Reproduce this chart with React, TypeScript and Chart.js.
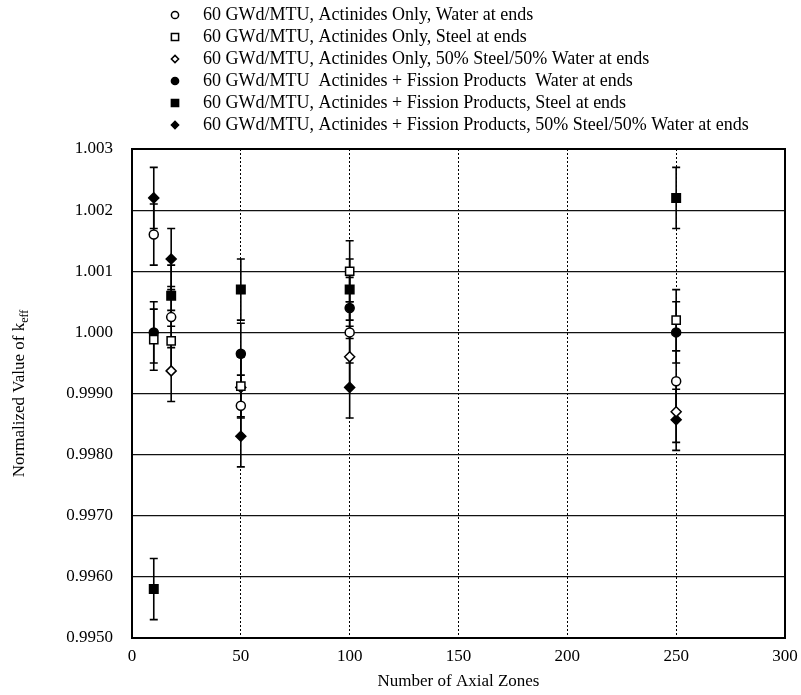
import React, { useEffect, useRef } from "react";
import { Chart, registerables } from "chart.js";

Chart.register(...registerables);

// ---- data ----
const X_ZONES = [10, 18, 50, 100, 250];
const ACT_WATER = [1.0016, 1.00025, 0.9988, 1.0, 0.9992];
const ACT_STEEL = [0.99988, 0.99986, 0.99912, 1.001, 1.0002];
const ACT_MIX = [null, 0.99937, 0.9991, 0.9996, 0.9987];
const FP_WATER = [1.0, null, 0.99965, 1.0004, 1.0];
const FP_STEEL = [0.9958, 1.0006, 1.0007, 1.0007, 1.0022];
const FP_MIX = [1.0022, 1.0012, 0.9983, 0.9991, 0.99857];
const ERR_HALF = 0.0005;

const SERIES_LABELS = [
  "60 GWd/MTU, Actinides Only, Water at ends",
  "60 GWd/MTU, Actinides Only, Steel at ends",
  "60 GWd/MTU, Actinides Only, 50% Steel/50% Water at ends",
  "60 GWd/MTU  Actinides + Fission Products  Water at ends",
  "60 GWd/MTU, Actinides + Fission Products, Steel at ends",
  "60 GWd/MTU, Actinides + Fission Products, 50% Steel/50% Water at ends",
];
const SERIES_VALUES = [ACT_WATER, ACT_STEEL, ACT_MIX, FP_WATER, FP_STEEL, FP_MIX];

const Y_TICK_LABELS = ["0.9950", "0.9960", "0.9970", "0.9980", "0.9990", "1.000", "1.001", "1.002", "1.003"];
const X_TITLE = "Number of Axial Zones";
const Y_TITLE = "Normalized Value of k";
const Y_TITLE_SUB = "eff";

// ---- styles ----
const FONT = '"Liberation Serif", "Times New Roman", serif';
const STYLES = [
  { shape: "circle", filled: false, r: 4.5 },
  { shape: "rect", filled: false, r: 5.8 },
  { shape: "rectRot", filled: false, r: 5 },
  { shape: "circle", filled: true, r: 4.5 },
  { shape: "rect", filled: true, r: 6 },
  { shape: "rectRot", filled: true, r: 5 },
];

function drawMarker(ctx: CanvasRenderingContext2D, shape: string, filled: boolean, x: number, y: number, s: number) {
  ctx.save();
  ctx.beginPath();
  if (shape === "circle") {
    ctx.arc(x, y, s, 0, Math.PI * 2);
  } else if (shape === "rect") {
    ctx.rect(x - s, y - s, 2 * s, 2 * s);
  } else {
    ctx.moveTo(x, y - s);
    ctx.lineTo(x + s, y);
    ctx.lineTo(x, y + s);
    ctx.lineTo(x - s, y);
    ctx.closePath();
  }
  ctx.fillStyle = filled ? "#000" : "#fff";
  ctx.fill();
  ctx.lineWidth = 1.5;
  ctx.strokeStyle = "#000";
  ctx.stroke();
  ctx.restore();
}

const errorBarPlugin = {
  id: "errorBars",
  beforeDatasetsDraw(chart: any) {
    const { ctx, chartArea, scales } = chart;
    const xs = scales.x;
    const ys = scales.y;
    ctx.save();
    // frame
    ctx.strokeStyle = "#000";
    ctx.lineWidth = 2;
    ctx.strokeRect(chartArea.left, chartArea.top, chartArea.right - chartArea.left, chartArea.bottom - chartArea.top);
    ctx.lineWidth = 1.6;
    chart.data.datasets.forEach((ds: any) => {
      ds.data.forEach((p: any) => {
        const px = xs.getPixelForValue(p.x);
        const top = ys.getPixelForValue(p.y + p.err);
        const bot = ys.getPixelForValue(p.y - p.err);
        ctx.beginPath();
        ctx.moveTo(px, top);
        ctx.lineTo(px, bot);
        ctx.moveTo(px - 4, top);
        ctx.lineTo(px + 4, top);
        ctx.moveTo(px - 4, bot);
        ctx.lineTo(px + 4, bot);
        ctx.stroke();
      });
    });
    ctx.restore();
  },
};

const textPlugin = {
  id: "texts",
  afterDraw(chart: any) {
    const { ctx, chartArea } = chart;
    ctx.save();
    ctx.fillStyle = "#000";
    // legend
    ctx.font = `18px ${FONT}`;
    ctx.textBaseline = "middle";
    ctx.textAlign = "left";
    SERIES_LABELS.forEach((label, i) => {
      const y = 15 + i * 22;
      const st = STYLES[i];
      drawMarker(ctx, st.shape, st.filled, 175, y, 3.6);
      ctx.fillStyle = "#000";
      ctx.fillText(label, 203, y);
    });
    // x title
    ctx.font = `17px ${FONT}`;
    ctx.textAlign = "center";
    ctx.fillText(X_TITLE, (chartArea.left + chartArea.right) / 2, 682);
    // y title with subscript
    ctx.translate(20, (chartArea.top + chartArea.bottom) / 2);
    ctx.rotate(-Math.PI / 2);
    ctx.font = `17px ${FONT}`;
    const w1 = ctx.measureText(Y_TITLE).width;
    ctx.font = `12px ${FONT}`;
    const w2 = ctx.measureText(Y_TITLE_SUB).width;
    const start = -(w1 + w2) / 2;
    ctx.textAlign = "left";
    ctx.font = `17px ${FONT}`;
    ctx.fillText(Y_TITLE, start, 0);
    ctx.font = `12px ${FONT}`;
    ctx.fillText(Y_TITLE_SUB, start + w1, 5);
    ctx.restore();
  },
};

export default function App() {
  const ref = useRef<HTMLCanvasElement | null>(null);
  useEffect(() => {
    document.body.style.margin = "0";
    const canvas = ref.current;
    if (!canvas) return;
    const datasets = SERIES_VALUES.map((vals, i) => {
      const st = STYLES[i];
      return {
        label: SERIES_LABELS[i],
        data: X_ZONES.map((x, j) => ({ x, y: vals[j], err: ERR_HALF })).filter((p) => p.y !== null),
        showLine: false,
        pointStyle: st.shape,
        pointRadius: st.r,
        pointHoverRadius: st.r,
        pointBackgroundColor: st.filled ? "#000" : "#fff",
        pointBorderColor: "#000",
        pointBorderWidth: 1.5,
      };
    });
    const chart = new Chart(canvas, {
      type: "scatter",
      data: { datasets: datasets as any },
      options: {
        animation: false,
        responsive: false,
        layout: { padding: { top: 149, right: 16, left: 0, bottom: 0 } },
        plugins: { legend: { display: false }, tooltip: { enabled: false } },
        scales: {
          x: {
            type: "linear",
            min: 0,
            max: 300,
            ticks: { stepSize: 50, color: "#000", font: { family: FONT, size: 17 }, padding: 8 },
            grid: { color: "#000", lineWidth: 1, drawTicks: false },
            border: { display: false, dash: [2, 2] },
            afterFit: (s: any) => {
              s.height = 57;
              s.paddingLeft = 0;
              s.paddingRight = 0;
            },
          },
          y: {
            type: "linear",
            min: 0.995,
            max: 1.003,
            ticks: {
              stepSize: 0.001,
              color: "#000",
              font: { family: FONT, size: 17 },
              padding: 19,
              callback: (v: any) => Y_TICK_LABELS[Math.round((Number(v) - 0.995) / 0.001)] ?? "",
            },
            grid: { color: "#111", lineWidth: 1.2, drawTicks: false },
            border: { display: false },
            afterFit: (s: any) => {
              s.width = 132;
              s.paddingTop = 0;
              s.paddingBottom = 0;
            },
          },
        },
      },
      plugins: [errorBarPlugin, textPlugin],
    });
    return () => chart.destroy();
  }, []);
  return <canvas ref={ref} width={801} height={695} style={{ display: "block" }} />;
}
